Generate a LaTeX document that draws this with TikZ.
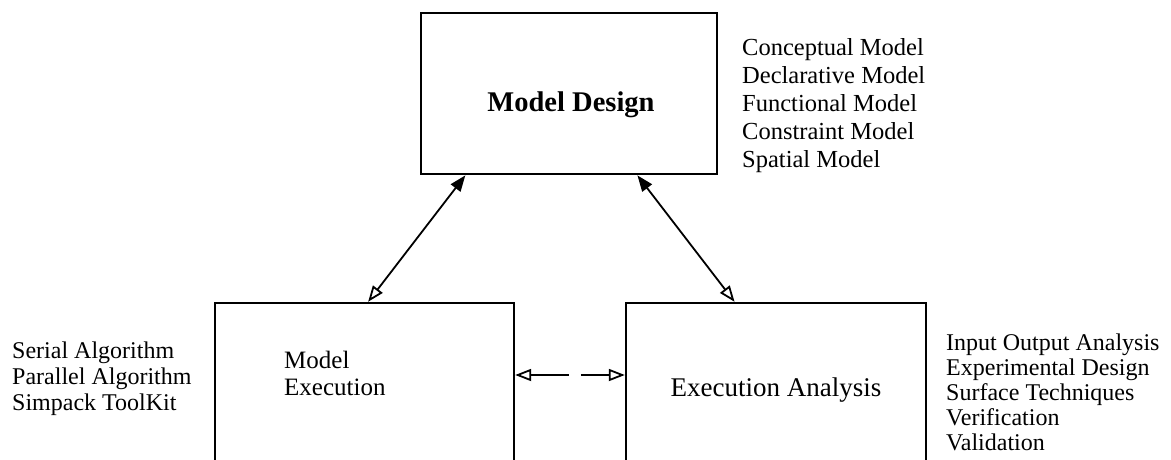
\documentclass[tikz,border=0pt]{standalone}
\usepackage{fontspec}
\setmainfont{Liberation Serif}
\usetikzlibrary{arrows.meta,calc}
\tikzset{
  opentip/.tip={Triangle[open, length=16pt, width=12pt, line width=1.8pt]},
  filltip/.tip={Triangle[length=16pt, width=12pt]},
}
\begin{document}
\begin{tikzpicture}[x=1pt,y=-1pt,
  topbox/.style={draw, line width=2.8pt, inner sep=0pt, minimum width=296pt, minimum height=161pt},
  lowbox/.style={draw, line width=2.4pt, inner sep=0pt, minimum height=177pt},
  lst/.style={align=left, inner sep=0pt, anchor=north west},
  conn/.style={line width=1.8pt},
  ]
\useasboundingbox (0,0) rectangle (1171,459);
\clip (0,0) rectangle (1171,459);

% boxes
\node[topbox] (md) at (569,93.5) {};
\node[lowbox, minimum width=299pt] (me) at (364.5,391.5) {};
\node[lowbox, minimum width=300pt] (ea) at (776,391.5) {};

% texts
\node[inner sep=0pt, font=\fontsize{28.5}{31}\selectfont\bfseries] (mdt) at (571,105) {Model Design};
\node[lst, font=\fontsize{24.5}{28}\selectfont] (mdl) at (742,38)
  {Conceptual Model\\Declarative Model\\Functional Model\\Constraint Model\\Spatial Model};
\node[lst, font=\fontsize{24}{26}\selectfont] (mel) at (12,342)
  {Serial Algorithm\\Parallel Algorithm\\Simpack ToolKit};
\node[lst, font=\fontsize{25}{27}\selectfont] (met) at (284,351) {Model\\Execution};
\node[inner sep=0pt, font=\fontsize{27}{30}\selectfont] (eat) at (776,390) {Execution Analysis};
\node[lst, font=\fontsize{24}{25}\selectfont] (eal) at (946,334)
  {Input Output Analysis\\Experimental Design\\Surface Techniques\\Verification\\Validation};

% connectors
\draw[conn, opentip-filltip]
  ($(me.north west)!0.512!(me.north east)$) -- ($(md.south west)!0.153!(md.south east)$);
\draw[conn, opentip-filltip]
  ($(ea.north west)!0.363!(ea.north east)$) -- ($(md.south west)!0.729!(md.south east)$);
\coordinate (hy) at (0,375);
\draw[conn, dash pattern=on 38pt off 12pt on 80pt, opentip-opentip]
  (me.east |- hy) -- (ea.west |- hy);
\end{tikzpicture}
\end{document}
